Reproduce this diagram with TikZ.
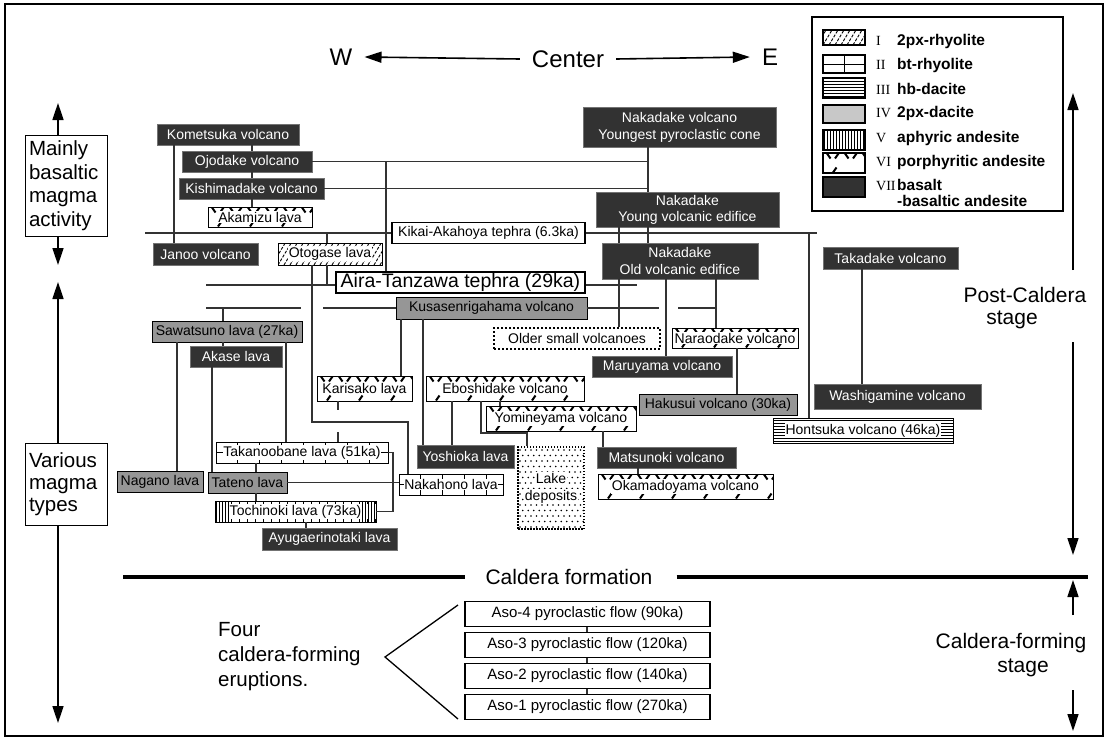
\documentclass[tikz,border=0pt]{standalone}
\usepackage{fontspec}
\setmainfont{Liberation Sans}
\newfontfamily\romanfont{Liberation Serif}
\usetikzlibrary{arrows.meta,calc}
\definecolor{dk}{RGB}{50,50,50}
\definecolor{mg}{RGB}{150,150,150}
\definecolor{lg}{RGB}{200,200,200}
\newcommand\wb[1]{{\setlength{\fboxsep}{0.5pt}\colorbox{white}{#1}}}
\newcommand\vconn[3]{\coordinate (vx) at (#1,0); \draw[conn] (vx |- #2.south) -- (vx |- #3.north);}
\newcommand\bx[7]{\node[#2, minimum width=#5pt-#3pt, minimum height=#6pt-#4pt] (#1) at ({(#3+#5)/2},{(#4+#6)/2}) {#7};}
\newcommand\rnum[1]{\makebox[21pt][l]{\romanfont\mdseries\fontsize{14}{16}\selectfont #1}}
\begin{document}
\begin{tikzpicture}[x=1pt,y=-1pt,
  box/.style={rectangle, draw=black, line width=0.9pt, inner sep=0pt, align=center, font=\fontsize{14}{17}\selectfont},
  dark/.style={box, draw=black!55, fill=dk, text=white},
  grayb/.style={box, fill=mg},
  whiteb/.style={box, fill=white},
  conn/.style={line width=1.1pt, draw=black!80},
  arr/.style={line width=1.6pt, -{Triangle[length=17pt,width=11pt]}},
  big/.style={font=\fontsize{20.5}{25}\selectfont, inner sep=0pt},
  bigr/.style={font=\fontsize{21}{25}\selectfont, inner sep=0pt},
  pI/.style={fill=white, path picture={%
    \foreach \i in {-6,...,50}{\draw[line width=0.9pt, dash pattern=on 3pt off 1.5pt] ([xshift=\i*6pt]path picture bounding box.south west) -- ++(18pt,30pt);}}},
  pII/.style={fill=white, path picture={%
    \draw[line width=0.8pt] (path picture bounding box.west) -- (path picture bounding box.east);
    \foreach \i in {0,...,12}{\draw[line width=0.8pt] ([xshift=21pt+\i*22pt]path picture bounding box.south west) -- ++(0pt,40pt);}}},
  pIII/.style={fill=white, path picture={%
    \foreach \i in {0,...,14}{\draw[line width=1.1pt] ([yshift=1.5pt+\i*3pt]path picture bounding box.south west) -- ++(300pt,0pt);}}},
  pV/.style={fill=white, path picture={%
    \foreach \i in {0,...,4}{\draw[line width=1.1pt] ([xshift=1.5pt+\i*3pt]path picture bounding box.south west) -- ++(0pt,40pt);
      \draw[line width=1.1pt] ([xshift=-1.5pt-\i*3pt]path picture bounding box.south east) -- ++(0pt,40pt);}
    \foreach \i in {0,...,25}{\draw[line width=0.8pt] ([xshift=16pt+\i*8pt]path picture bounding box.south west) -- ++(0pt,3pt);
      \draw[line width=0.8pt] ([xshift=16pt+\i*8pt]path picture bounding box.north west) -- ++(0pt,-3pt);}}},
  pVfull/.style={fill=white, path picture={%
    \foreach \i in {0,...,20}{\draw[line width=1.1pt] ([xshift=1.5pt+\i*3pt]path picture bounding box.south west) -- ++(0pt,40pt);}}},
  pVI/.style={fill=white, path picture={%
    \foreach \i in {0,...,15}{%
      \draw[line width=2pt] ([xshift=4pt+\i*18pt, yshift=-0.5pt]path picture bounding box.north west) -- ++(3.5pt,-5pt);
      \draw[line width=2pt] ([xshift=12pt+\i*18pt, yshift=-5.5pt]path picture bounding box.north west) -- ++(3.5pt,5pt);}
    \foreach \i in {0,...,34}{\fill ([xshift=3pt+\i*8pt, yshift=2pt]path picture bounding box.south west) circle (1.1pt);}
    \foreach \i in {0,...,8}{\draw[line width=2pt] ([xshift=10pt+\i*32pt, yshift=0.5pt]path picture bounding box.south west) -- ++(3.5pt,5pt);}}},
  pDots/.style={fill=white, path picture={%
    \foreach \i in {0,...,13}{\foreach \j in {0,...,8}{%
      \fill[black] ([xshift=2pt+\i*5.5pt, yshift=2pt+\j*11pt]path picture bounding box.south west) circle (0.85pt);
      \fill[black] ([xshift=4.75pt+\i*5.5pt, yshift=7.5pt+\j*11pt]path picture bounding box.south west) circle (0.85pt);}}}}
]
\useasboundingbox (0,0) rectangle (1108,739);
\fill[white] (0,0) rectangle (1108,739);
\draw[line width=2pt] (5,4) rectangle (1103,736);

% ---------- header ----------
\node[inner sep=0pt, font=\fontsize{24}{28}\selectfont] (hW) at (341,57) {W};
\node[inner sep=0pt, font=\fontsize{24}{28}\selectfont] (hC) at (568,59) {Center};
\node[inner sep=0pt, font=\fontsize{24}{28}\selectfont] (hE) at (770,57) {E};
\draw[arr] ([xshift=-12pt]hC.west) -- ([xshift=12pt]hW.east);
\draw[arr] ([xshift=12pt]hC.east) -- ([xshift=-12pt]hE.west);

% ---------- legend ----------
\draw[line width=1.8pt] (812,17) rectangle (1063,211);
\draw[line width=1.3pt, pI] (823,30) rectangle (865,45);
\draw[line width=1.3pt, pII] (823,55) rectangle (865,73);
\draw[line width=1.3pt, pIII] (823,78) rectangle (865,98);
\draw[line width=1.3pt, fill=lg] (823,105) rectangle (865,123);
\draw[line width=1.3pt, pVfull] (823,130) rectangle (865,150);
\draw[line width=1.3pt, pVI] (823,153) rectangle (865,173);
\draw[line width=1.3pt, fill=dk] (823,177) rectangle (865,197);
\begin{scope}[every node/.style={anchor=west, inner sep=0pt, font=\bfseries\fontsize{15.5}{18}\selectfont}]
\node (lg1) at (876,41) {\rnum{I}2px-rhyolite};
\node (lg2) at (876,65) {\rnum{II}bt-rhyolite};
\node (lg3) at (876,89) {\rnum{III}hb-dacite};
\node (lg4) at (876,113) {\rnum{IV}2px-dacite};
\node (lg5) at (876,138) {\rnum{V}aphyric andesite};
\node (lg6) at (876,162) {\rnum{VI}porphyritic andesite};
\node (lg7) at (876,185) {\rnum{VII}basalt};
\node (lg8) at (897,201) {-basaltic andesite};
\end{scope}

% ---------- side labels ----------
\node[draw, line width=1pt, fill=white, font=\fontsize{20.5}{23.5}\selectfont, text width=74pt, align=left, inner xsep=4pt, inner ysep=0pt, minimum height=101pt] (mainly) at (66,185.5) {Mainly\\basaltic\\magma\\activity};
\node[draw, line width=1pt, fill=white, font=\fontsize{20.5}{22}\selectfont, text width=74pt, align=left, inner xsep=4pt, inner ysep=0pt, minimum height=82pt] (various) at (66,484) {Various\\magma\\types};
\coordinate (la1) at (58,103); \coordinate (la2) at (58,265);
\coordinate (la3) at (58,282); \coordinate (la4) at (58,723);
\draw[arr] (la1 |- mainly.north) -- (la1);
\draw[arr] (la2 |- mainly.south) -- (la2);
\draw[arr] (la3 |- various.north) -- (la3);
\draw[arr] (la4 |- various.south) -- (la4);

\node[bigr] (post) at (1025,295) {Post-Caldera};
\node[bigr] (poststage) at (1012,320) {stage};
\coordinate (ra1) at (1073,93); \coordinate (ra2) at (1073,270);
\coordinate (ra3) at (1073,342); \coordinate (ra4) at (1073,555);
\draw[arr] (ra2) -- (ra1);
\draw[arr] (ra3) -- (ra4);

\node[bigr] (cfs) at (1011,643) {Caldera-forming};
\node[bigr] (cfstage) at (1023,668) {stage};
\coordinate (ra5) at (1073,615); \coordinate (ra6) at (1073,580);
\coordinate (ra7) at (1073,690); \coordinate (ra8) at (1073,731);
\draw[arr] (ra5) -- (ra6);
\draw[arr] (ra7) -- (ra8);

% ---------- caldera formation ----------
\node[bigr] (calf) at (569,577) {Caldera formation};
\coordinate (cfL) at (123,577); \coordinate (cfR) at (1088,577);
\draw[line width=4pt] (cfL) -- ([xshift=-20pt]calf.west);
\draw[line width=4pt] ([xshift=24pt]calf.east) -- (cfR);

\node[big, align=left, anchor=west] (four) at (218,657) {Four\\caldera-forming\\eruptions.};
\bx{aso4}{box, fill=white, line width=1.8pt, font=\fontsize{15}{18}\selectfont}{465}{601.5}{710}{626.5}{Aso-4 pyroclastic flow (90ka)}
\bx{aso3}{box, fill=white, line width=1.8pt, font=\fontsize{15}{18}\selectfont}{465}{632.5}{710}{657.5}{Aso-3 pyroclastic flow (120ka)}
\bx{aso2}{box, fill=white, line width=1.8pt, font=\fontsize{15}{18}\selectfont}{465}{663.5}{710}{688.5}{Aso-2 pyroclastic flow (140ka)}
\bx{aso1}{box, fill=white, line width=1.8pt, font=\fontsize{15}{18}\selectfont}{465}{694.5}{710}{719.5}{Aso-1 pyroclastic flow (270ka)}
\vconn{587}{aso4}{aso3}
\vconn{587}{aso3}{aso2}
\vconn{587}{aso2}{aso1}
\coordinate (br1) at (458,605); \coordinate (br2) at (385,657); \coordinate (br3) at (458,719);
\draw[line width=1.3pt] (br1) -- (br2) -- (br3);

% ---------- level line ends ----------
\coordinate (kL) at (145,233); \coordinate (kR) at (817,233);
\coordinate (aL) at (206,285); \coordinate (aR) at (637,285);
\coordinate (k1) at (206,308); \coordinate (k2) at (301,308);
\coordinate (k3) at (323,308); \coordinate (k4) at (659,308);
\coordinate (k5) at (678,308); \coordinate (k6) at (716,308);

% ---------- nodes ----------
\bx{kometsuka}{dark}{157}{124}{299}{145}{Kometsuka volcano}
\bx{ojodake}{dark}{182}{151}{312}{172}{Ojodake volcano}
\bx{kishima}{dark}{179}{178}{324}{199}{Kishimadake volcano}
\bx{akamizu}{box,pVI}{208}{207}{312}{227}{\wb{Akamizu lava}}
\bx{janoo}{dark}{153}{243}{258}{265}{Janoo volcano}
\bx{otogase}{box,pI}{278}{243}{382}{265}{\wb{Otogase lava}}
\bx{kikai}{box, fill=white, line width=1.2pt}{392}{222.5}{585}{243.5}{Kikai-Akahoya tephra (6.3ka)}
\bx{nakav}{dark, font=\fontsize{14}{17}\selectfont}{583}{107}{776}{147}{Nakadake volcano\\Youngest pyroclastic cone}
\bx{young}{dark, font=\fontsize{14}{16}\selectfont}{596}{192}{779}{227}{Nakadake\\Young volcanic edifice}
\bx{old}{dark, font=\fontsize{14}{17}\selectfont}{602}{243}{758}{279}{Nakadake\\Old volcanic edifice}
\bx{aira}{box, fill=white, line width=1.2pt, font=\fontsize{19.5}{22}\selectfont}{336}{272}{585}{293}{Aira-Tanzawa tephra (29ka)}
\bx{kusasen}{grayb}{396}{297}{587}{319}{Kusasenrigahama volcano}
\bx{older}{box, fill=white, dash pattern=on 2pt off 2pt, line width=1.4pt}{494}{328}{660}{349}{Older small volcanoes}
\bx{narao}{box,pVI}{672}{328}{798}{348}{\wb{Naraodake volcano}}
\bx{maruyama}{dark}{592}{356}{732}{377}{Maruyama volcano}
\bx{hakusui}{grayb}{639}{394}{797}{415}{Hakusui volcano (30ka)}
\bx{hontsuka}{box,pIII}{773}{418}{953}{443}{\wb{Hontsuka volcano (46ka)}}
\bx{takadake}{dark}{823}{247}{958}{269}{Takadake volcano}
\bx{washi}{dark}{814}{384}{981}{409}{Washigamine volcano}
\bx{eboshi}{box,pVI}{426}{376}{584}{401}{\wb{Eboshidake volcano}}
\bx{yomine}{box,pVI}{486}{406}{636}{431}{\wb{Yomineyama volcano}}
\bx{yoshioka}{dark}{417}{445}{514}{468}{Yoshioka lava}
\bx{lake}{box,pDots, dash pattern=on 1.5pt off 1.5pt, line width=1.2pt}{518}{447}{584}{529}{\wb{Lake}\\\wb{deposits}}
\bx{matsunoki}{dark}{597}{447}{736}{468}{Matsunoki volcano}
\bx{okama}{box,pVI}{598}{474}{773}{499}{\wb{Okamadoyama volcano}}
\bx{karisako}{box,pVI}{317}{376}{412}{401}{\wb{Karisako lava}}
\bx{sawatsuno}{grayb}{152}{321}{302}{342}{Sawatsuno lava (27ka)}
\bx{akase}{dark}{190}{346}{282}{367}{Akase lava}
\bx{takanoobane}{box,pII}{216}{442}{388}{463}{\wb{Takanoobane lava (51ka)}}
\bx{nagano}{grayb}{117}{471}{203}{492}{Nagano lava}
\bx{tateno}{grayb}{208}{472}{287}{493}{Tateno lava}
\bx{tochinoki}{box,pV}{215}{501}{376}{522}{\wb{Tochinoki lava (73ka)}}
\bx{ayuga}{dark}{262}{528}{397}{550}{Ayugaerinotaki lava}
\bx{nakahono}{box,pII}{399}{474}{503}{495}{\wb{Nakahono lava}}

% ---------- connectors ----------
\vconn{174}{kometsuka}{janoo}
\vconn{252}{kometsuka}{ojodake}
\vconn{252}{ojodake}{kishima}
\vconn{252}{kishima}{akamizu}
\coordinate (nk) at (648,0);
\draw[conn] (ojodake.east) -- (ojodake.east -| nk);
\draw[conn] (kishima.east) -- (kishima.east -| nk);
\vconn{648}{nakav}{young}
\coordinate (c386) at (386,0);
\draw[conn] (ojodake.east -| c386) -- (c386 |- aira.north);
\draw[conn] (kL) -- (kikai.west);
\draw[conn] (kikai.east) -- (kR);
\coordinate (c327) at (327,0);
\draw[conn] (c327 |- kL) -- (c327 |- otogase.north);
\draw[conn] (aL) -- (aL -| aira.west);
\draw[conn] (aira.east |- aR) -- (aR);
\draw[conn] (c327 |- otogase.south) -- (c327 |- aL);
\coordinate (j1) at (312,422); \coordinate (j2) at (408,422);
\draw[conn] (j1 |- otogase.south) -- (j1) -- (j2) -- (j2 |- nakahono.north);
\vconn{619}{young}{old}
\vconn{648}{young}{old}
\vconn{619}{old}{older}
\vconn{666}{old}{maruyama}
\vconn{716}{old}{narao}
\draw[conn] (k1) -- (k2);
\draw[conn] (k3) -- (kusasen.west);
\draw[conn] (kusasen.east) -- (k4);
\draw[conn] (k5) -- (k6);
\coordinate (c223) at (223,0);
\draw[conn] (c223 |- k1) -- (c223 |- sawatsuno.north);
\vconn{223}{sawatsuno}{akase}
\vconn{177}{sawatsuno}{nagano}
\vconn{286}{sawatsuno}{takanoobane}
\vconn{212}{akase}{tateno}
\vconn{256}{takanoobane}{tateno}
\vconn{256}{tateno}{tochinoki}
\vconn{306}{tochinoki}{ayuga}
\draw[conn] (tateno.east) -- (tateno.east -| nakahono.west);
\coordinate (b1) at (393,0);
\draw[conn] (takanoobane.east) -- (takanoobane.east -| b1) -- (b1 |- tochinoki.east) -- (tochinoki.east);
\coordinate (y1) at (338,410); \coordinate (y2) at (338,432);
\draw[conn] (y1 |- karisako.south) -- (y1);
\draw[conn] (y2) -- (y2 |- takanoobane.north);
\vconn{401}{kusasen}{karisako}
\vconn{423}{kusasen}{yoshioka}
\vconn{452}{eboshi}{yoshioka}
\coordinate (e1) at (481,433); \coordinate (e2) at (527,433);
\draw[conn] (e1 |- eboshi.south) -- (e1) -- (e2) -- (e2 |- lake.north);
\vconn{500}{eboshi}{yomine}
\vconn{603}{yomine}{matsunoki}
\vconn{638}{matsunoki}{okama}
\vconn{737}{narao}{hakusui}
\coordinate (c809) at (809,0);
\draw[conn] (c809 |- kR) -- (c809 |- hontsuka.north);
\vconn{862}{takadake}{washi}
\end{tikzpicture}
\end{document}
